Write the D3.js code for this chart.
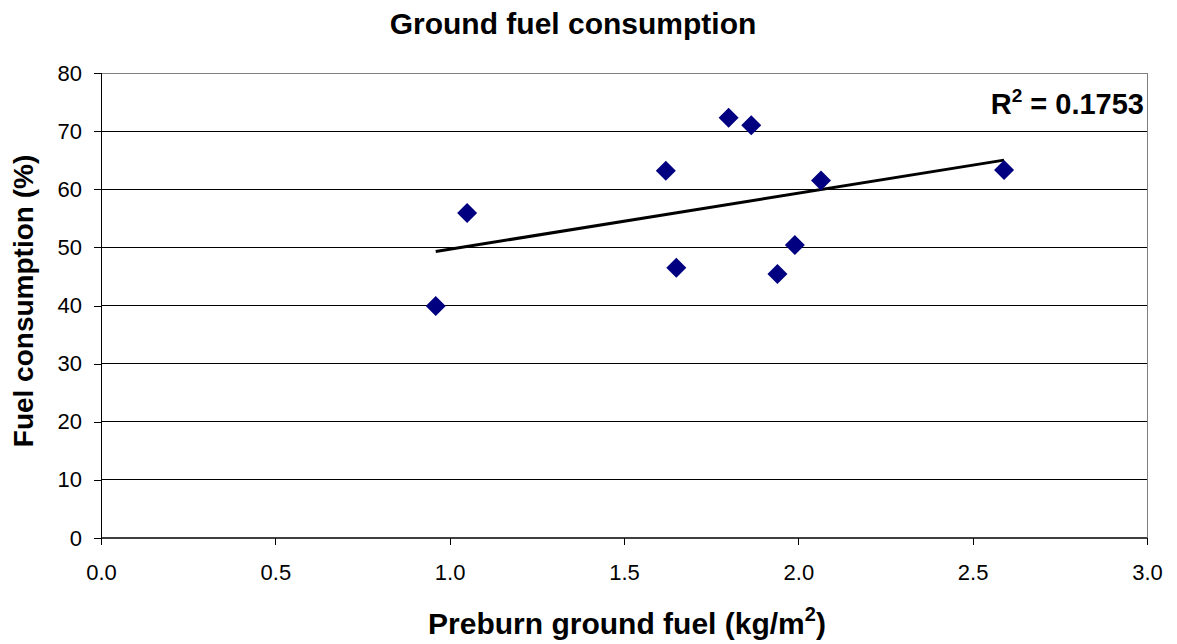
<!DOCTYPE html>
<html>
<head>
<meta charset="utf-8">
<script src="https://cdn.jsdelivr.net/npm/d3@7"></script>
<style>
  body { margin: 0; background: #fff; }
  text { font-family: Arial, "Liberation Sans", sans-serif; }
</style>
</head>
<body>
<div id="chart"></div>
<script>
// preburn ground fuel (kg/m2) vs fuel consumption (%)
var preburnFuel = [0.96, 1.05, 1.62, 1.65, 1.80, 1.865, 1.94, 1.99, 2.065, 2.59];
var consumption = [39.9, 55.9, 63.2, 46.5, 72.3, 71.0, 45.4, 50.4, 61.5, 63.3];
var xTicks = [0, 0.5, 1.0, 1.5, 2.0, 2.5, 3.0];
var yTicks = [0, 10, 20, 30, 40, 50, 60, 70, 80];
var r2Label = "0.1753";

var width = 1177, height = 644;
var margin = {top: 73, right: 30, bottom: 106, left: 101};

var svg = d3.select("#chart").append("svg")
    .attr("width", width)
    .attr("height", height);

var x = d3.scaleLinear().domain([0, 3]).range([margin.left, width - margin.right]);
var y = d3.scaleLinear().domain([0, 80]).range([height - margin.bottom, margin.top]);

// gridlines
svg.selectAll(".grid")
    .data(yTicks.filter(function(d) { return d > 0; }))
    .enter().append("line")
    .attr("x1", x(0))
    .attr("x2", x(3))
    .attr("y1", function(d) { return y(d); })
    .attr("y2", function(d) { return y(d); })
    .style("stroke", function(d) { return d == 80 ? "#808080" : "#000"; })
    .style("stroke-width", 1)
    .style("shape-rendering", "crispEdges");

// right border of plot area
svg.append("line")
    .attr("x1", x(3)).attr("x2", x(3))
    .attr("y1", y(80)).attr("y2", y(0))
    .style("stroke", "#808080")
    .style("shape-rendering", "crispEdges");

// axes
var xAxis = d3.axisBottom(x).tickValues(xTicks).tickFormat(d3.format(".1f")).tickSize(7).tickPadding(19);
var yAxis = d3.axisLeft(y).tickValues(yTicks).tickSize(7).tickPadding(12);

var gx = svg.append("g")
    .attr("transform", "translate(0," + y(0) + ")")
    .call(xAxis);
var gy = svg.append("g")
    .attr("transform", "translate(" + x(0) + ",0)")
    .call(yAxis);

[gx, gy].forEach(function(g) {
    g.select(".domain").remove();
    g.selectAll("line").style("stroke", "#000").style("shape-rendering", "crispEdges");
    g.selectAll("text").style("font-size", "22px").style("fill", "#000");
});

svg.append("line")
    .attr("x1", x(0)).attr("x2", x(3))
    .attr("y1", y(0)).attr("y2", y(0))
    .style("stroke", "#000")
    .style("stroke-width", 1.5);
svg.append("line")
    .attr("x1", x(0)).attr("x2", x(0))
    .attr("y1", y(80)).attr("y2", y(0))
    .style("stroke", "#000")
    .style("shape-rendering", "crispEdges");

// linear trend (least squares)
var n = preburnFuel.length;
var mx = d3.mean(preburnFuel), my = d3.mean(consumption);
var sxy = 0, sxx = 0;
for (var i = 0; i < n; i++) {
    sxy += (preburnFuel[i] - mx) * (consumption[i] - my);
    sxx += (preburnFuel[i] - mx) * (preburnFuel[i] - mx);
}
var slope = sxy / sxx;
var intercept = my - slope * mx;
var xMin = d3.min(preburnFuel), xMax = d3.max(preburnFuel);

svg.append("line")
    .attr("x1", x(xMin))
    .attr("y1", y(intercept + slope * xMin))
    .attr("x2", x(xMax))
    .attr("y2", y(intercept + slope * xMax))
    .style("stroke", "#000")
    .style("stroke-width", 3);

// points
var diamond = d3.symbol().type(d3.symbolSquare).size(200);
svg.selectAll(".pt")
    .data(preburnFuel)
    .enter().append("path")
    .attr("d", diamond)
    .attr("transform", function(d, i) {
        return "translate(" + x(d) + "," + y(consumption[i]) + ") rotate(45)";
    })
    .style("fill", "#000080");

// titles
svg.append("text")
    .attr("x", 573)
    .attr("y", 34)
    .attr("text-anchor", "middle")
    .style("font-size", "30px")
    .style("font-weight", "bold")
    .text("Ground fuel consumption");

var xl = svg.append("text")
    .attr("x", 627)
    .attr("y", 634)
    .attr("text-anchor", "middle")
    .style("font-size", "30px")
    .style("font-weight", "bold");
xl.append("tspan").text("Preburn ground fuel (kg/m");
xl.append("tspan").attr("dy", -13).style("font-size", "20px").text("2");
xl.append("tspan").attr("dy", 13).text(")");

svg.append("text")
    .attr("transform", "translate(33,301) rotate(-90)")
    .attr("text-anchor", "middle")
    .style("font-size", "28px")
    .style("font-weight", "bold")
    .text("Fuel consumption (%)");

var r2 = svg.append("text")
    .attr("x", 1144)
    .attr("y", 114)
    .attr("text-anchor", "end")
    .style("font-size", "29px")
    .style("font-weight", "bold");
r2.append("tspan").text("R");
r2.append("tspan").attr("dy", -12).style("font-size", "19px").text("2");
r2.append("tspan").attr("dy", 12).text(" = " + r2Label);
</script>
</body>
</html>
